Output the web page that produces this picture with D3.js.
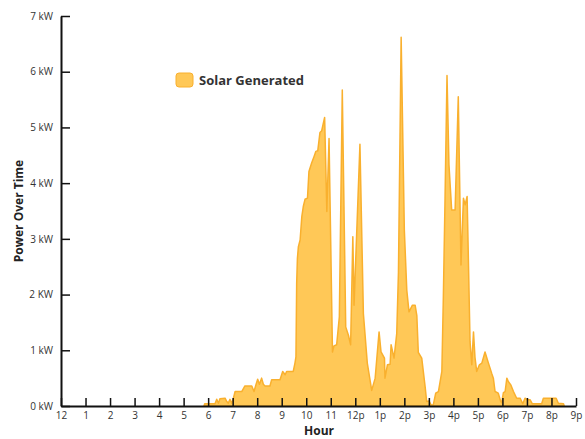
<!DOCTYPE html>
<html>
<head>
  <meta charset="utf-8">
  <title>Power Over Time</title>
  <style>
    body { margin: 0; background: #fff; }
    text { font-family: "Open Sans", "Noto Sans", sans-serif; fill: #333; }
    .tick text { font-size: 10px; }
    .title { font-weight: bold; font-size: 12px; fill: #222; }
    .legend-label { font-weight: bold; font-size: 13px; fill: #333; }
    .area { fill: #FFC857; stroke: #F9B02E; stroke-width: 1.5px; stroke-linejoin: round; }
  </style>
</head>
<body>
  <svg id="chart"></svg>

  <script src="https://d3js.org/d3.v7.min.js"></script>
  <script>
    // hour of day (0 = midnight) and kW generated
    const hours = [
      5.83, 5.86, 6.28, 6.35, 6.42, 6.48, 6.69, 6.76, 6.82, 6.89, 6.96, 7.03, 7.10, 7.37, 7.50,
      7.78, 7.87, 7.95, 8.02, 8.09, 8.18, 8.25, 8.32, 8.52, 8.59, 8.93, 9.04, 9.14, 9.20, 9.47,
      9.54, 9.58, 9.61, 9.64, 9.68, 9.75, 9.82, 9.88, 9.95, 10.05, 10.11, 10.22, 10.32, 10.39,
      10.47, 10.56, 10.63, 10.75, 10.84, 10.93, 11.07, 11.13, 11.24, 11.35, 11.47, 11.61, 11.72,
      11.81, 11.90, 11.95, 12.19, 12.33, 12.49, 12.67, 12.81, 12.97, 13.05, 13.19, 13.21, 13.31,
      13.42, 13.46, 13.58, 13.69, 13.76, 13.87, 14.00, 14.10, 14.19, 14.33, 14.44, 14.51, 14.57,
      14.71, 14.85, 14.91, 15.01, 15.09, 15.18, 15.28, 15.39, 15.53, 15.59, 15.66, 15.74, 15.82,
      15.93, 16.07, 16.20, 16.31, 16.41, 16.48, 16.56, 16.68, 16.75, 16.82, 16.88, 16.95, 17.06,
      17.16, 17.29, 17.43, 17.56, 17.63, 17.70, 17.83, 17.93, 17.97, 18.04, 18.11, 18.18, 18.24,
      18.34, 18.45, 18.58, 18.72, 18.83, 18.92, 19.03, 19.13, 19.22, 19.60, 19.67, 20.19, 20.28,
      20.49, 20.52
    ];
    const kw = [
      0.00, 0.04, 0.04, 0.12, 0.05, 0.13, 0.14, 0.08, 0.05, 0.12, 0.05, 0.14, 0.26, 0.26, 0.36,
      0.36, 0.26, 0.38, 0.48, 0.39, 0.50, 0.39, 0.36, 0.36, 0.47, 0.47, 0.62, 0.56, 0.62, 0.62,
      0.77, 0.88, 2.20, 2.65, 2.86, 2.98, 3.40, 3.58, 3.71, 3.73, 4.21, 4.36, 4.48, 4.57,
      4.58, 4.91, 4.94, 5.18, 3.49, 4.80, 0.97, 1.08, 1.10, 1.60, 5.67, 1.42, 1.27,
      1.10, 3.04, 1.81, 4.70, 1.66, 0.77, 0.28, 0.50, 1.33, 0.97, 0.86, 0.50, 0.74,
      0.75, 1.10, 0.86, 1.30, 2.40, 6.62, 3.16, 2.08, 1.69, 1.81, 1.81, 1.62, 0.96,
      0.86, 0.34, 0.08, 0.09, 0.02, 0.02, 0.23, 0.26, 0.62, 1.93, 3.73, 5.93, 4.33,
      3.52, 3.52, 5.55, 2.53, 3.73, 3.61, 3.76, 1.15, 0.74, 1.33, 0.88, 0.62, 0.74,
      0.77, 0.97, 0.77, 0.59, 0.50, 0.26, 0.23, 0.08, 0.06, 0.24, 0.26, 0.50, 0.44,
      0.38, 0.26, 0.14, 0.14, 0.04, 0.14, 0.11, 0.11, 0.04, 0.04, 0.14, 0.14, 0.05,
      0.04, 0.00
    ];

    const hourTicks = d3.range(0, 22);
    const hourLabels = ["12", "1", "2", "3", "4", "5", "6", "7", "8", "9", "10", "11",
      "12p", "1p", "2p", "3p", "4p", "5p", "6p", "7p", "8p", "9p"];
    const kwTicks = [0, 1, 2, 3, 4, 5, 6, 7];
    const kwLabels = ["0 kW", "1 kW", "2 KW", "3 kW", "4 kW", "5 kW", "6 kW", "7 kW"];
    const seriesName = "Solar Generated";

    const width = 585, height = 439;
    const svg = d3.select("#chart").attr("width", width).attr("height", height);

    const x = d3.scaleLinear().domain([0, 21]).range([61, 576]);
    const y = d3.scaleLinear().domain([0, 7]).range([406, 16]);

    const data = hours.map((h, i) => ({ h: h, v: kw[i] }));

    // filled area
    const area = d3.area()
      .x(d => x(d.h))
      .y0(y(0))
      .y1(d => y(d.v));

    svg.append("path")
      .datum(data)
      .attr("class", "area")
      .attr("d", area);

    // x axis, ticks pointing up
    svg.append("g")
      .attr("transform", `translate(0,${y(0)})`)
      .call(d3.axisBottom(x)
        .tickValues(hourTicks)
        .tickFormat((d, i) => hourLabels[i])
        .tickSizeInner(-8)
        .tickSizeOuter(0)
        .tickPadding(6));

    // y axis, ticks pointing right
    svg.append("g")
      .attr("transform", `translate(${x(0)},0)`)
      .call(d3.axisLeft(y)
        .tickValues(kwTicks)
        .tickFormat((d, i) => kwLabels[i])
        .tickSizeInner(-9)
        .tickSizeOuter(0)
        .tickPadding(8));

    svg.selectAll(".domain").attr("stroke", "#111").attr("stroke-width", 2);
    svg.selectAll(".tick line").attr("stroke", "#111").attr("stroke-width", 1.5);
    svg.selectAll(".tick text").attr("fill", "#333");

    // axis titles
    svg.append("text")
      .attr("class", "title")
      .attr("x", 319)
      .attr("y", 435)
      .attr("text-anchor", "middle")
      .text("Hour");

    svg.append("text")
      .attr("class", "title")
      .attr("transform", "translate(23,211) rotate(-90)")
      .attr("text-anchor", "middle")
      .text("Power Over Time");

    // legend
    svg.append("rect")
      .attr("x", 176).attr("y", 73)
      .attr("width", 17).attr("height", 14)
      .attr("rx", 3)
      .attr("fill", "#FFC857")
      .attr("stroke", "#F9B02E")
      .attr("stroke-width", 1);

    svg.append("text")
      .attr("class", "legend-label")
      .attr("x", 199)
      .attr("y", 85)
      .text(seriesName);
  </script>
</body>
</html>
